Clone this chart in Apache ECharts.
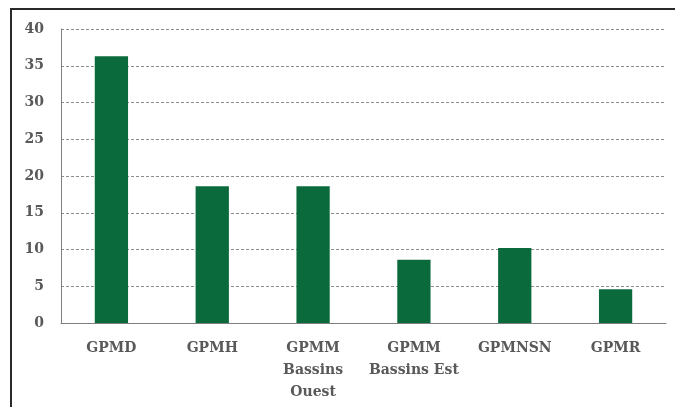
<!DOCTYPE html>
<html><head><meta charset="utf-8">
<script src="https://cdn.jsdelivr.net/npm/echarts@6/dist/echarts.min.js"></script>
<style>html,body{margin:0;padding:0;background:#fff}#c{width:675px;height:407px}</style>
</head><body><div id="c"></div>
<script>
const categories = ['GPMD', 'GPMH', 'GPMM\nBassins\nOuest', 'GPMM\nBassins Est', 'GPMNSN', 'GPMR'];
const values = [36.3, 18.6, 18.6, 8.6, 10.2, 4.6];
const yTicks = [0, 5, 10, 15, 20, 25, 30, 35, 40];

const chart = echarts.init(document.getElementById('c'));
chart.setOption({
  animation: false,
  graphic: [{
    type: 'rect', shape: { x: 11, y: 9, width: 700, height: 500 },
    style: { fill: 'none', stroke: '#2a2a2a', lineWidth: 2 }, z: 10
  }],
  grid: { left: 61, right: 9, top: 29, bottom: 84, containLabel: false },
  xAxis: {
    type: 'category', data: categories,
    axisLine: { show: true, lineStyle: { color: '#7f7f7f', width: 1 } },
    axisTick: { show: false },
    axisLabel: { color: '#595959', fontFamily: 'DejaVu Serif', fontWeight: 'bold', fontSize: 14, lineHeight: 22, margin: 14, interval: 0 }
  },
  yAxis: {
    type: 'value', min: yTicks[0], max: yTicks[yTicks.length - 1], interval: 5,
    axisLine: { show: true, lineStyle: { color: '#7f7f7f', width: 1 } },
    axisTick: { show: false },
    axisLabel: { color: '#595959', fontFamily: 'DejaVu Serif', fontWeight: 'bold', fontSize: 14, margin: 17 },
    splitLine: { show: true, lineStyle: { color: '#8c8c8c', type: [3, 2], width: 1 } }
  },
  series: [{
    type: 'bar', data: values, barWidth: '33%',
    itemStyle: { color: '#0b6a3c' }
  }]
});
</script></body></html>
